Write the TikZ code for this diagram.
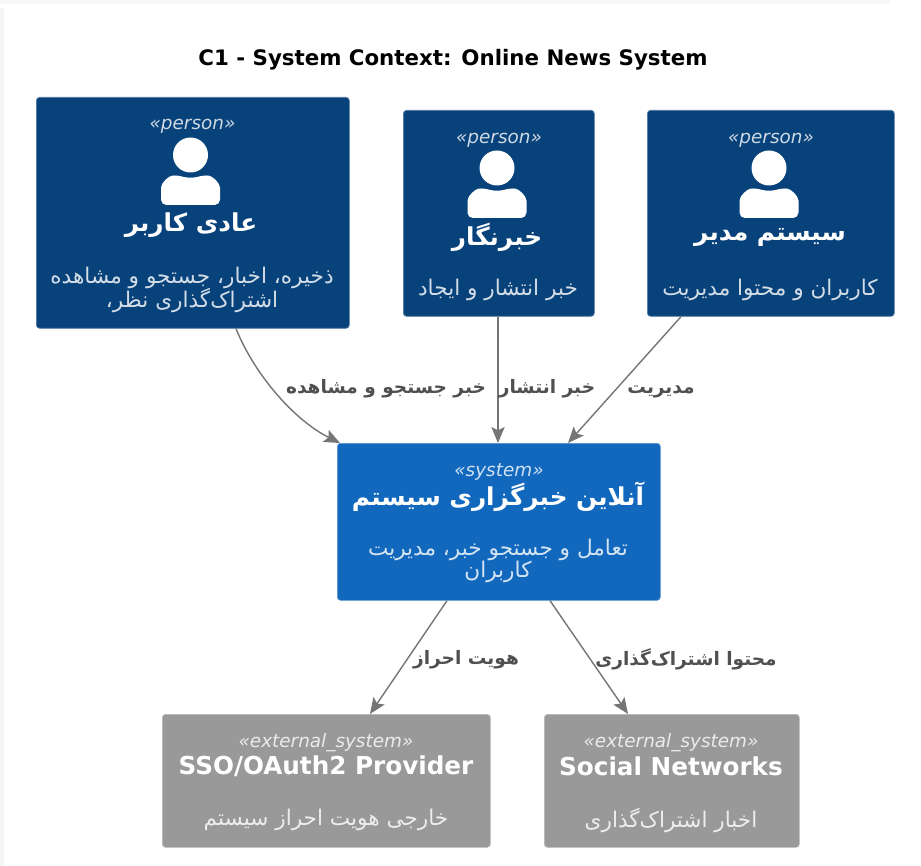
\documentclass[tikz,border=0pt]{standalone}
\usepackage{fontspec}
\setmainfont{DejaVu Sans}
\newfontfamily\arabicfont[Script=Arabic]{DejaVu Sans}
\TeXXeTstate=1
\usetikzlibrary{arrows.meta,calc}
\definecolor{personblue}{HTML}{08427B}
\definecolor{sysblue}{HTML}{1168BD}
\definecolor{extgrey}{HTML}{999999}
\definecolor{linkgrey}{HTML}{757575}
\definecolor{labelgrey}{HTML}{505050}
\newcommand{\fa}[1]{{\arabicfont\beginR #1\endR}}
\tikzset{
  x=0.75pt,y=-0.75pt,
  box/.style={draw=#1!70!white,line width=0.5pt,fill=#1,rounded corners=2.5pt,inner sep=0pt,anchor=north west},
  stereo/.style={text=white!80!#1,font=\fontsize{13.8}{15}\selectfont\itshape,inner sep=0pt},
  bname/.style={text=white,font=\fontsize{18.5}{21}\selectfont\bfseries,inner sep=0pt},
  descr/.style={text=white!82!#1,font=\fontsize{16.2}{17.5}\selectfont,inner sep=0pt,align=center},
  rel/.style={draw=linkgrey,line width=1.05pt,-{Stealth[length=12pt,width=10pt,inset=2.5pt]}},
  rellabel/.style={text=labelgrey,font=\fontsize{13.9}{16}\selectfont\bfseries,inner sep=0pt},
  picon/.style={fill=white,draw=none}
}
\newcommand{\personicon}[2]{% x,y(center of head)
  \fill[picon] (#1,#2) circle (17.5);
  \fill[picon,rounded corners=4pt] (#1-29.5,#2+38)
    .. controls (#1-29.5,#2+28) and (#1-22,#2+21) .. (#1-13,#2+20)
    .. controls (#1-4,#2+23) and (#1+4,#2+23) .. (#1+13,#2+20)
    .. controls (#1+22,#2+21) and (#1+29.5,#2+28) .. (#1+29.5,#2+38)
    -- (#1+29.5,#2+50) -- (#1-29.5,#2+50) -- cycle;
}
\begin{document}
\begin{tikzpicture}
\useasboundingbox (0,0) rectangle (921,866);
\fill[white] (0,0) rectangle (921,866);
\fill[black!4] (0,8) rectangle (4,866);
\fill[black!3] (0,0) rectangle (890,4);

\node[inner sep=0pt,font=\fontsize{16}{19}\selectfont\bfseries] (title) at (453,60) {C1 - System Context: Online News System};

\node[box=personblue,minimum width=234.75pt,minimum height=173.25pt] (user) at (36,97) {};
\node[box=personblue,minimum width=143.25pt,minimum height=154.5pt] (journo) at (403,110) {};
\node[box=personblue,minimum width=185.25pt,minimum height=154.5pt] (admin) at (647,110) {};
\node[box=sysblue,minimum width=242.25pt,minimum height=117.75pt] (sys) at (337,443) {};
\node[box=extgrey,minimum width=246pt,minimum height=99.75pt] (sso) at (162,714) {};
\node[box=extgrey,minimum width=191.25pt,minimum height=99.75pt] (social) at (544,714) {};

\personicon{190.5}{155}
\personicon{497}{168}
\personicon{769}{168}

\node[stereo=personblue] (us) at (192.5,126) {«person»};
\node[bname] (un) at (191,225) {\fa{عادی کاربر}};
\node[descr=personblue] (ud) at (192,290) {\fa{ذخیره، اخبار، جستجو و مشاهده}\\[-1pt]\fa{اشتراک‌گذاری نظر،}};

\node[stereo=personblue] (js) at (499,140) {«person»};
\node[bname] (jn) at (497,237) {\fa{خبرنگار}};
\node[descr=personblue] (jd) at (498,290) {\fa{خبر انتشار و ایجاد}};

\node[stereo=personblue] (as) at (771,140) {«person»};
\node[bname] (an) at (770,237) {\fa{سیستم مدیر}};
\node[descr=personblue] (ad) at (770,290) {\fa{کاربران و محتوا مدیریت}};

\node[stereo=sysblue] (ss) at (499,472) {«system»};
\node[bname] (sn) at (498,497) {\fa{آنلاین خبرگزاری سیستم}};
\node[descr=sysblue] (sd) at (498,561) {\fa{تعامل و جستجو خبر، مدیریت}\\[-1pt]\fa{کاربران}};

\node[stereo=extgrey] (es1) at (326,743) {«external\_system»};
\node[bname] (en1) at (326,766) {SSO/OAuth2 Provider};
\node[descr=extgrey] (ed1) at (326,820) {\fa{خارجی هویت احراز سیستم}};

\node[stereo=extgrey] (es2) at (671,743) {«external\_system»};
\node[bname] (en2) at (671,766) {Social Networks};
\node[descr=extgrey] (ed2) at (671,820) {\fa{اخبار اشتراک‌گذاری}};

\draw[rel] ([xshift=150pt]user.south west) .. controls ($(user.south west)+(219,47)$) and ($(user.south west)+(259,92)$) .. ([xshift=2.25pt]sys.north west);
\draw[rel] ([xshift=71.25pt]journo.south west) -- ([xshift=120.75pt]sys.north west);
\draw[rel] ([xshift=25.5pt]admin.south west) -- ([xshift=173.25pt]sys.north west);
\draw[rel] ([xshift=82.5pt]sys.south west) -- ([xshift=156pt]sso.north west);
\draw[rel] ([xshift=159.75pt]sys.south west) -- ([xshift=63pt]social.north west);

\node[rellabel] (l1) at (386,389) {\fa{خبر جستجو و مشاهده}};
\node[rellabel] (l2) at (547,389) {\fa{خبر انتشار}};
\node[rellabel] (l3) at (661,392) {\fa{مدیریت}};
\node[rellabel] (l4) at (466,660) {\fa{هویت احراز}};
\node[rellabel] (l5) at (686,659) {\fa{محتوا اشتراک‌گذاری}};
\end{tikzpicture}
\end{document}
